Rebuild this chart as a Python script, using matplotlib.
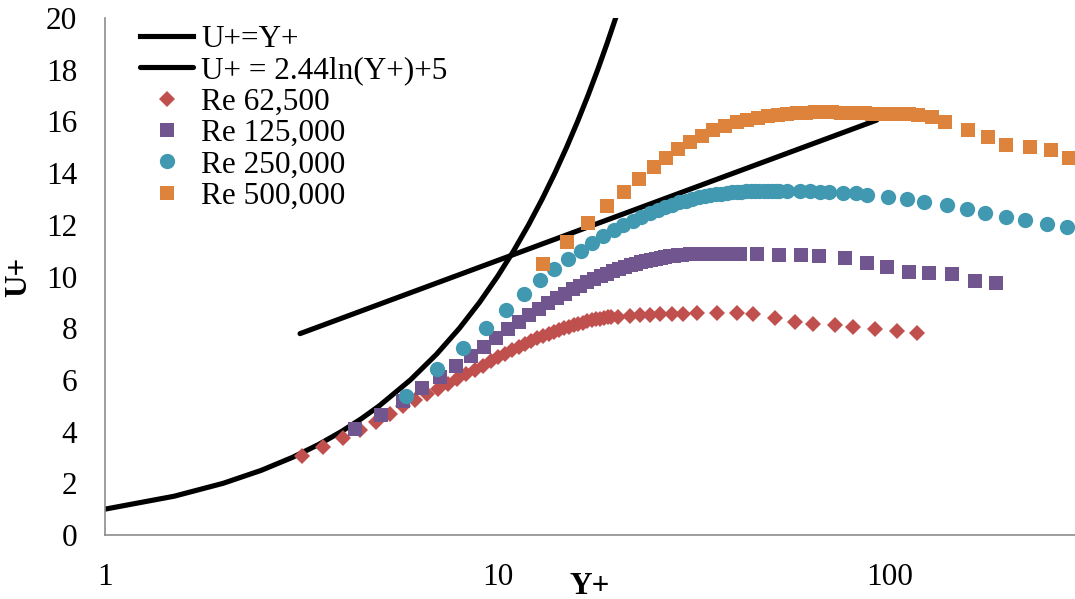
import matplotlib
matplotlib.use("Agg")
import matplotlib.pyplot as plt

# viscous sublayer U+ = Y+
yp_lin = [1, 1.5, 2, 2.5, 3, 3.5, 4, 4.5, 5, 6, 7, 8, 9, 10, 11, 12, 13, 14, 15,
          16, 17, 18, 19, 20, 21, 22]
up_lin = [1, 1.5, 2, 2.5, 3, 3.5, 4, 4.5, 5, 6, 7, 8, 9, 10, 11, 12, 13, 14, 15,
          16, 17, 18, 19, 20, 21, 22]

# log law U+ = 2.44 ln(Y+) + 5 (end points)
yp_log = [3.14, 92.5]
up_log = [7.79, 16.05]

# Re 62,500
yp_62 = [3.17, 3.60, 4.03, 4.46, 4.89, 5.32, 5.75, 6.18, 6.61, 7.04, 7.47, 7.90,
         8.33, 8.76, 9.19, 9.62, 10.05, 10.48, 10.91, 11.34, 11.77, 12.20, 12.63,
         13.06, 13.49, 13.92, 14.35, 14.78, 15.21, 15.64, 16.07, 16.50, 16.93,
         17.36, 17.79, 18.22, 18.65, 19.08, 19.51, 20.3, 21.8, 23.1, 24.5, 25.9,
         27.8, 29.7, 32.2, 36.2, 40.8, 44.8, 51.0, 57.3, 63.8, 72.4, 80.6, 91.6,
         104, 117]
up_62 = [3.06, 3.42, 3.75, 4.05, 4.38, 4.70, 4.99, 5.23, 5.45, 5.66, 5.85, 6.04,
         6.21, 6.38, 6.54, 6.72, 6.88, 7.02, 7.15, 7.28, 7.40, 7.51, 7.61,
         7.70, 7.78, 7.86, 7.93, 8.00, 8.06, 8.12, 8.17, 8.22, 8.26,
         8.30, 8.34, 8.37, 8.40, 8.42, 8.44, 8.45, 8.48, 8.50, 8.52, 8.53,
         8.55, 8.56, 8.57, 8.57, 8.57, 8.53, 8.38, 8.25, 8.16, 8.12, 8.05, 7.95,
         7.89, 7.81]

# Re 125,000
yp_125 = [4.34, 5.04, 5.74, 6.44, 7.14, 7.84, 8.54, 9.24, 9.94, 10.64, 11.34,
          12.04, 12.74, 13.44, 14.14, 14.84, 15.54, 16.24, 16.94, 17.64, 18.34,
          19.04, 19.74, 20.44, 21.14, 21.84, 22.54, 23.24, 23.94, 24.64, 25.34,
          26.04, 26.74, 27.44, 28.14, 28.84, 29.54, 31.0, 33.0, 35.5, 38.3, 41.5,
          45.8, 52.2, 59.2, 66.1, 76.8, 87.5, 98.1, 112, 126, 143.6, 164.6, 186]
up_125 = [4.09, 4.64, 5.20, 5.67, 6.10, 6.52, 6.92, 7.28, 7.63, 7.95, 8.24,
          8.50, 8.74, 8.96, 9.15, 9.33, 9.50, 9.65, 9.78, 9.90, 10.01,
          10.11, 10.20, 10.28, 10.36, 10.43, 10.49, 10.55, 10.60, 10.65, 10.69,
          10.73, 10.76, 10.79, 10.81, 10.83, 10.85, 10.86, 10.87, 10.88, 10.88, 10.87,
          10.86, 10.83, 10.83, 10.80, 10.71, 10.54, 10.36, 10.17, 10.13, 10.10, 9.84, 9.74]

# Re 250,000
yp_250 = [5.85, 7.01, 8.17, 9.33, 10.49, 11.65, 12.81, 13.97, 15.13, 16.29, 17.45,
          18.61, 19.77, 20.93, 22.09, 23.25, 24.41, 25.57, 26.73, 27.89, 29.05,
          30.21, 31.37, 32.53, 33.69, 34.85, 36.01, 37.17, 38.33, 39.49, 40.65,
          41.81, 42.97, 44.13, 45.29, 46.45, 47.61, 48.77, 49.93, 51.09, 52.25,
          54.8, 58.9, 62.4, 66.2, 69.9, 76.0, 81.9, 87.2, 99.0, 110.7, 122.1,
          139.5, 157.4, 174.6, 197.5, 220.8, 250.8, 283]
up_250 = [5.39, 6.41, 7.25, 8.02, 8.72, 9.32, 9.85, 10.28, 10.66, 11.00, 11.30,
          11.56, 11.79, 11.99, 12.16, 12.31, 12.45, 12.57, 12.68, 12.78, 12.87,
          12.94, 13.00, 13.06, 13.11, 13.15, 13.18, 13.21, 13.23, 13.25, 13.27,
          13.28, 13.29, 13.30, 13.31, 13.31, 13.32, 13.32, 13.32, 13.32, 13.32,
          13.31, 13.30, 13.29, 13.28, 13.26, 13.24, 13.22, 13.15, 13.06, 12.99, 12.87,
          12.77, 12.61, 12.45, 12.32, 12.17, 12.04, 11.91]

# Re 500,000
yp_500 = [13.08, 15.06, 17.02, 19.05, 21.0, 22.97, 25.0, 26.9, 28.9, 30.9, 33.1,
          35.5, 38.0, 40.7, 43.3, 46.0, 48.8, 51.7, 54.7, 57.8, 61.0, 64.3, 67.7,
          71.2, 74.8, 78.5, 82.3, 86.2, 90.2, 94.3, 98.5, 102.8, 107.2, 111.7,
          118.1, 127.7, 138.1, 157.8, 178, 197.5, 227.3, 256.7, 286.3]
up_500 = [10.48, 11.35, 12.08, 12.73, 13.28, 13.77, 14.22, 14.60, 14.92, 15.21, 15.45,
          15.67, 15.84, 15.99, 16.07, 16.14, 16.20, 16.25, 16.29, 16.32, 16.34, 16.35, 16.35,
          16.35, 16.34, 16.33, 16.32, 16.31, 16.30, 16.30, 16.29, 16.29, 16.28, 16.27,
          16.26, 16.18, 15.99, 15.68, 15.39, 15.10, 15.00, 14.90, 14.57]

plt.rcParams['font.family'] = ['Liberation Serif', 'DejaVu Serif']
plt.rcParams['font.size'] = 22.5

fig = plt.figure(figsize=(10.75, 5.99), dpi=100)
ax = fig.add_axes([105 / 1075, 64 / 599, 970 / 1075, 517 / 599])

ax.plot(yp_lin, up_lin, color='black', lw=3.7, label='U+=Y+', zorder=2)
ax.plot(yp_log, up_log, color='black', lw=3.7, solid_capstyle='round',
        label='U+ = 2.44ln(Y+)+5', zorder=2)
ax.plot(yp_62, up_62, 'D', ls='none', color='#C0504D', ms=8.5, mew=0,
        label='Re 62,500', zorder=3)
ax.plot(yp_125, up_125, 's', ls='none', color='#70558F', ms=10.5, mew=0,
        label='Re 125,000', zorder=4)
ax.plot(yp_250, up_250, 'o', ls='none', color='#4199B1', ms=11, mew=0,
        label='Re 250,000', zorder=5)
ax.plot(yp_500, up_500, 's', ls='none', color='#DE833B', ms=10.5, mew=0,
        label='Re 500,000', zorder=6)

ax.set_xscale('log')
ax.set_xlim(1, 296)
ax.set_ylim(0, 20)
ax.set_yticks(range(0, 21, 2))
ax.set_xticks([1, 10, 100])
ax.set_xticklabels(['1', '10', '100'])
ax.minorticks_off()
ax.tick_params(axis='both', length=0, labelsize=22.5)
ax.tick_params(axis='x', pad=20)
ax.tick_params(axis='y', pad=20)

for s in ['top', 'right']:
    ax.spines[s].set_visible(False)
for s in ['left', 'bottom']:
    ax.spines[s].set_color('#8C8C8C')
    ax.spines[s].set_linewidth(1.2)

ax.set_ylabel('U+', fontweight='bold', fontsize=22.5)
ax.yaxis.set_label_coords(-0.074, 0.5)
ax.set_xlabel('Y+', fontweight='bold', fontsize=22.5)
ax.xaxis.set_label_coords(0.5, -0.072)

fig.legend(loc='upper left', bbox_to_anchor=(140 / 1075, 1 - 25 / 599),
           frameon=False, fontsize=22.5, handlelength=1.7, handletextpad=0.25,
           labelspacing=0.075, borderpad=0, borderaxespad=0)

fig.savefig('out.png', dpi=100)
